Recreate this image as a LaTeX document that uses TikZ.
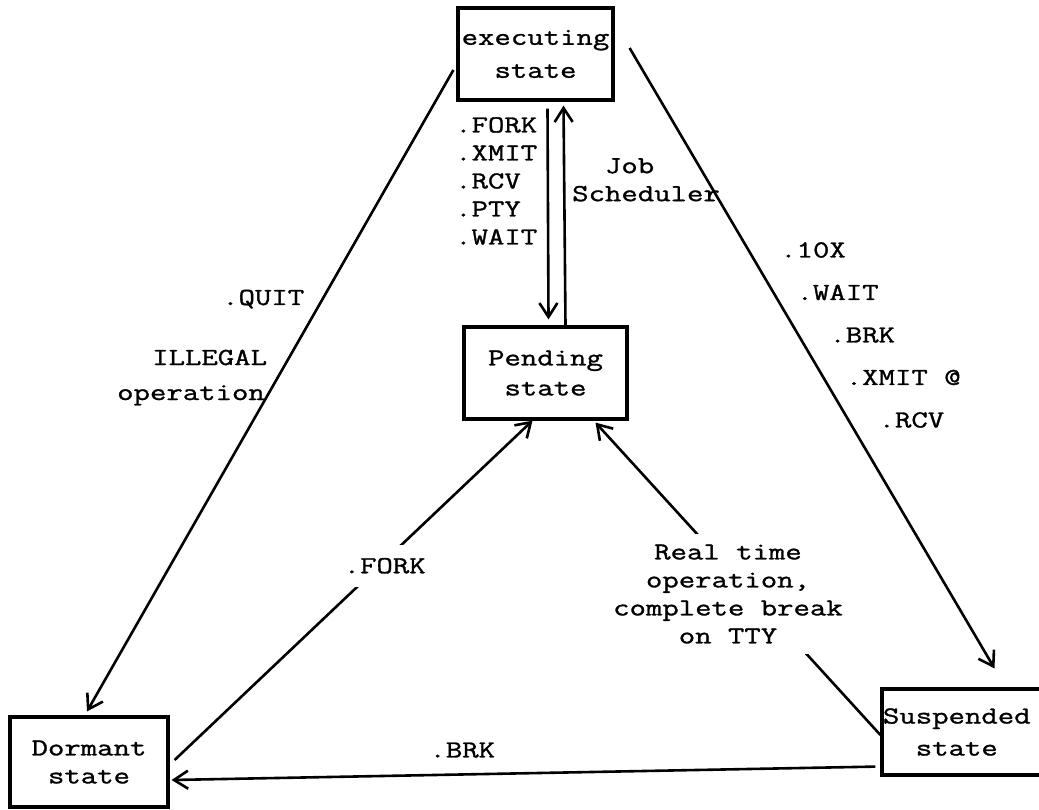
\documentclass[tikz,border=0pt]{standalone}
\usepackage{fontspec}
\setmonofont{Latin Modern Mono}[FakeStretch=1.3, FakeBold=1.2]
\usetikzlibrary{arrows.meta,calc}

\tikzset{
  state/.style={draw, line width=3.2pt, minimum height=92pt, inner sep=2pt, align=center},
  lbl/.style={inner sep=0pt, align=left},
  tr/.style={line width=2.6pt, -{Straight Barb[length=14pt,width=18pt,line width=2.6pt]}},
}

\begin{document}
\begin{tikzpicture}[x=1pt, y=-1pt, font=\ttfamily\fontsize{24.5}{28}\selectfont]
  \useasboundingbox (0,0) rectangle (1039,810);
  \clip (0,0) rectangle (1039,810);

  % the four states
  \node[state, minimum width=155pt] (exec) at (535.5,54) {executing\\[5pt]state};
  \node[state, minimum width=163pt] (pend) at (545.5,373) {Pending\\[2pt]state};
  \node[state, minimum width=158pt, minimum height=90pt] (dorm) at (89,762) {Dormant\\state};
  \node[state, minimum height=86pt, text width=175pt, align=left, inner xsep=1pt]
    (susp) at (970.5,732) {Suspended\\[4pt]\phantom{xx}state};

  % transitions
  \draw[tr] ($(exec.west)+(-3,16)$) -- ($(dorm.north)+(-2,-4)$);
  \draw[tr] ($(exec.east)+(15,-6)$) -- ($(susp.north)+(24,-19)$);
  \draw[tr] ($(exec.south)+(12,7)$) -- ($(pend.north)+(3,-6)$);
  \draw[tr] ($(pend.north)+(20,0)$) -- ($(exec.south)+(28,4)$);
  \draw[tr] ($(dorm.east)+(5,-2)$) --
    node[lbl, fill=white, inner sep=13pt, pos=0.587, yshift=-5pt] (fork) {.FORK}
    ($(pend.south)+(-13,0)$);
  \draw[tr] ($(susp.west)+(0,3)$) -- ($(pend.south)+(50,2)$);
  \draw[tr] ($(susp.south west)+(-5,-10)$) --
    node[lbl, anchor=base, pos=0.587, yshift=17pt] (brk) {.BRK}
    ($(dorm.east)+(2,18)$);

  % labels
  \node[lbl, align=center, fill=white, inner sep=10pt] (rt) at (728,594)
    {Real time\\operation,\\complete break\\on TTY};
  \node[lbl, anchor=base west] (quit) at (222,305) {.QUIT};
  \node[lbl, anchor=base west] (illegal) at (152,365) {ILLEGAL};
  \node[lbl, anchor=base west] (oper) at (117,400) {operation};
  \node[lbl, anchor=north west] (calls) at (455,117) {.FORK\\.XMIT\\.RCV\\.PTY\\.WAIT};
  \node[lbl, anchor=north west] (sched) at (572,158) {\phantom{xx}Job\\Scheduler};
  \node[lbl, anchor=north west] (waits) at (780,242)
    {.10X\\[14.5pt]\phantom{x}.WAIT\\[14.5pt]\phantom{xxx}.BRK\\[14.5pt]%
     \phantom{xxxx}.XMIT @\\[14.5pt]\phantom{xxxxxx}.RCV};
\end{tikzpicture}
\end{document}
